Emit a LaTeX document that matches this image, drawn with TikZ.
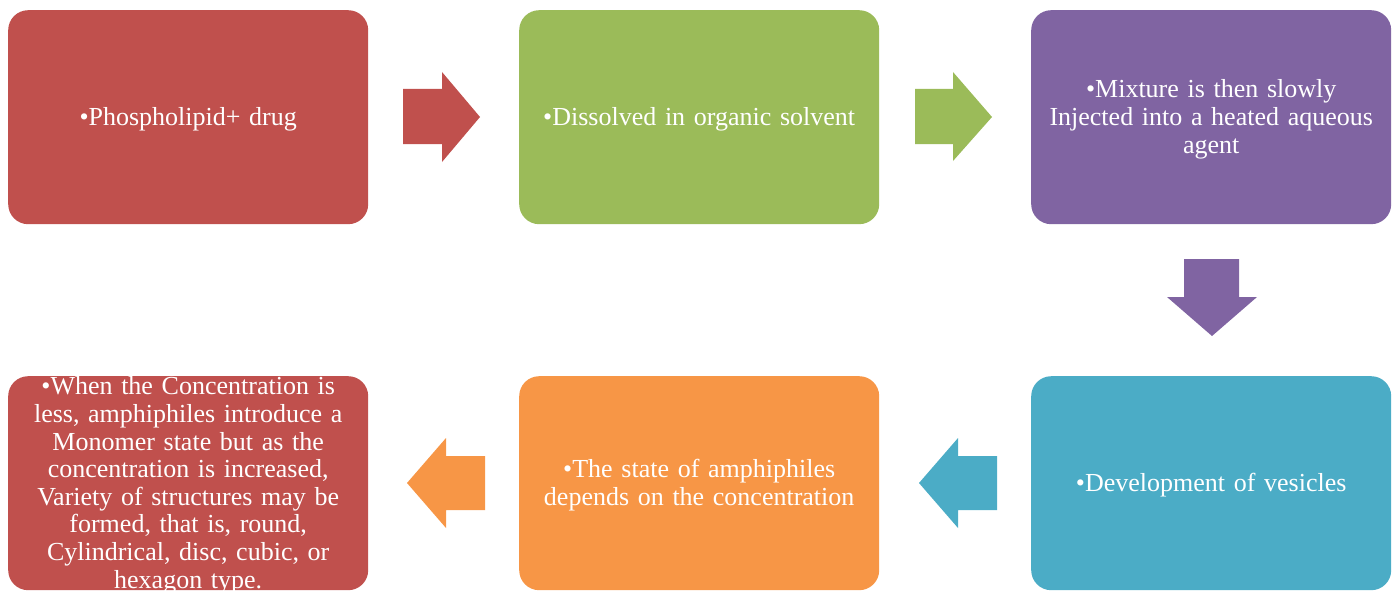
\documentclass[tikz,border=0pt]{standalone}
\usepackage{fontspec}
\setmainfont{Liberation Serif}
\definecolor{cred}{HTML}{C0504D}
\definecolor{cgreen}{HTML}{9BBB59}
\definecolor{cpurple}{HTML}{8064A2}
\definecolor{cteal}{HTML}{4BACC6}
\definecolor{corange}{HTML}{F79646}
\begin{document}
\begin{tikzpicture}[x=1pt,y=-1pt,
  box/.style={rounded corners=20pt, minimum width=360pt, minimum height=214pt,
    inner sep=0pt, anchor=north west},
  boxtext/.style={text width=356pt, align=center, text=white, inner sep=0pt,
    yshift=-2pt, font=\fontsize{26}{27.6}\selectfont},
  blockarrow/.style={draw=none}]
\useasboundingbox (0,0) rectangle (1399,591);
\node[box, fill=cred] (b1) at (8,10) {};
\node[box, fill=cgreen] (b2) at (519,10) {};
\node[box, fill=cpurple] (b3) at (1031,10) {};
\node[box, fill=cteal] (b6) at (1031,376) {};
\node[box, fill=corange] (b5) at (519,376) {};
\node[box, fill=cred] (b4) at (8,376) {};
\node[boxtext] (t1) at (b1.center) {•Phospholipid+ drug};
\node[boxtext] (t2) at (b2.center) {•Dissolved in organic solvent};
\node[boxtext] (t3) at (b3.center) {•Mixture is then slowly\\Injected into a heated aqueous\\agent};
\node[boxtext] (t6) at (b6.center) {•Development of vesicles};
\node[boxtext] (t5) at (b5.center) {•The state of amphiphiles\\depends on the concentration};
\node[boxtext] (t4) at (b4.center) {•When the Concentration is\\less, amphiphiles introduce a\\Monomer state but as the\\concentration is increased,\\Variety of structures may be\\formed, that is, round,\\Cylindrical, disc, cubic, or\\hexagon type.};
% block arrows
\fill[blockarrow, cred] (403,89)--(442,89)--(442,72)--(480,117)--(442,162)--(442,144)--(403,144)--cycle;
\fill[blockarrow, cgreen] (915,89)--(953,89)--(953,72)--(992,117)--(953,161)--(953,144)--(915,144)--cycle;
\fill[blockarrow, cpurple] (1184,259)--(1239,259)--(1239,297)--(1257,297)--(1212,336)--(1167,297)--(1184,297)--cycle;
\fill[blockarrow, cteal] (997,456)--(958,456)--(958,438)--(919,483)--(958,528)--(958,510)--(997,510)--cycle;
\fill[blockarrow, corange] (485,456)--(446,456)--(446,438)--(407,483)--(446,528)--(446,510)--(485,510)--cycle;
\end{tikzpicture}
\end{document}
